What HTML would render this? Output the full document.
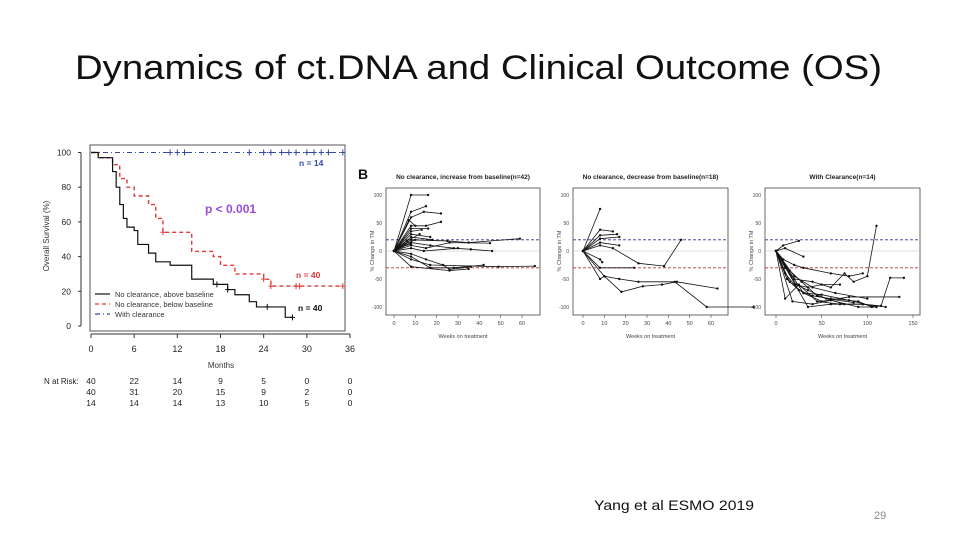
<!DOCTYPE html>
<html><head><meta charset="utf-8"><style>
html,body{margin:0;padding:0;background:#fff;width:960px;height:540px;overflow:hidden}
svg{display:block;font-family:"Liberation Sans",sans-serif}
</style></head><body>
<svg id="s" width="960" height="540" viewBox="0 0 960 540">
<text x="75" y="79" font-size="34" textLength="807" lengthAdjust="spacingAndGlyphs" fill="#111">Dynamics of ct.DNA and Clinical Outcome (OS)</text>
<text x="594" y="510" font-size="14" fill="#111" textLength="160" lengthAdjust="spacingAndGlyphs">Yang et al ESMO 2019</text>
<text x="874" y="519" font-size="11" fill="#888">29</text>
<g id="km"></g>
<g id="sp"></g>
</svg>
<script>
// ---- KM data ----
const kmXTicks=[0,6,12,18,24,30,36];
const kmYTicks=[0,20,40,60,80,100];
const blackT=[0,1,3,3.5,4,4.5,5,6,6.5,8,9,11,14,17,19,20,22,23,27];
const blackS=[100,97,89,80,70,62,57,55,47,42,37,35,27,24,21,18,14,11,5];
const blackEnd=28;
const redT=[0,1,3,4,5,6,8,9,10,14,17,18,20,24,25];
const redS=[100,97,93,85,80,75,70,62,54,43,40,35,30,27,23];
const redEnd=35;
const blueT=[0];const blueS=[100];const blueEnd=35;
const blueCens=[11,12,13,22,24,25,26.5,27.5,28.5,30,31,32,33,35];
const redCens=[10,24,25,28.5,29,35];
const blackCens=[17.5,19,24.5,28];
const riskRows=[[40,22,14,9,5,0,0],[40,31,20,15,9,2,0],[14,14,14,13,10,5,0]];

const NS='http://www.w3.org/2000/svg';
function mk(p,tag,at,txt){const e=document.createElementNS(NS,tag);for(const k in at)e.setAttribute(k,at[k]);if(txt!==undefined)e.textContent=txt;p.appendChild(e);return e;}
const km=document.getElementById('km');
const kx=t=>91+t*(350-91)/36, ky=v=>326-v*(326-152.5)/100;
let r=mk(km,'rect',{x:90,y:145,width:255,height:186,fill:'none',stroke:'#555','stroke-width':1});


mk(km,'line',{x1:kx(0),x2:kx(36),y1:334,y2:334,stroke:'#333'});
kmXTicks.forEach(t=>{mk(km,'line',{x1:kx(t),x2:kx(t),y1:334,y2:338,stroke:'#333'});
 const e=mk(km,'text',{x:kx(t),y:352,'font-size':9,'text-anchor':'middle',fill:'#222'},t);
 
 });
mk(km,'line',{x1:81,x2:81,y1:ky(0),y2:ky(100),stroke:'#333'});
kmYTicks.forEach(v=>{mk(km,'line',{x1:78,x2:81,y1:ky(v),y2:ky(v),stroke:'#333'});
 const e=mk(km,'text',{x:71,y:ky(v)+3,'font-size':8.5,'text-anchor':'end',fill:'#222'},v);
 
 });
let yt=mk(km,'text',{x:49,y:236,'font-size':8,'text-anchor':'middle',fill:'#333',transform:'rotate(-90 49 236)'},'Overall Survival (%)');


let xt=mk(km,'text',{x:221,y:368,'font-size':8,'text-anchor':'middle',fill:'#333'},'Months');


function stepPath(T,S,end){let d=`M${kx(T[0])},${ky(S[0])}`;for(let i=1;i<T.length;i++){d+=`H${kx(T[i])}V${ky(S[i])}`;}d+=`H${kx(end)}`;return d;}
function cens(T,S,end,list,col){list.forEach(c=>{let v=S[0];for(let i=0;i<T.length;i++)if(T[i]<=c)v=S[i];
 mk(km,'path',{d:`M${kx(c)-2.5},${ky(v)}h5M${kx(c)},${ky(v)-3}v6`,stroke:col,'stroke-width':1});});}
let pb=mk(km,'path',{d:stepPath(blueT,blueS,blueEnd),fill:'none',stroke:'#3348a8','stroke-width':1,'stroke-dasharray':'5 3 1 3'});


let pr=mk(km,'path',{d:stepPath(redT,redS,redEnd),fill:'none',stroke:'#e03a3a','stroke-width':1.4,'stroke-dasharray':'4 3'});


let pk=mk(km,'path',{d:stepPath(blackT,blackS,blackEnd),fill:'none',stroke:'#111','stroke-width':1.2});


cens(blueT,blueS,blueEnd,blueCens,'#3348a8');cens(redT,redS,redEnd,redCens,'#e03a3a');cens(blackT,blackS,blackEnd,blackCens,'#111');
[['n = 14',299,166,'#3348a8'],['n = 40',296,278,'#e03a3a'],['n = 40',298,311,'#111']].forEach(a=>{const e=mk(km,'text',{x:a[1],y:a[2],'font-size':8.5,'font-weight':'bold',fill:a[3]},a[0]);
 
 });
let pv=mk(km,'text',{x:205,y:213,'font-size':12,'font-weight':'bold',fill:'#9b4ad8'},'p < 0.001');


[['No clearance, above baseline','#111',''],['No clearance, below baseline','#e03a3a','4 3'],['With clearance','#3348a8','5 3 1 3']].forEach((l,i)=>{const y=294+i*10;
 mk(km,'line',{x1:95,x2:110,y1:y,y2:y,stroke:l[1],'stroke-dasharray':l[2],'stroke-width':1.2});
 const e=mk(km,'text',{x:115,y:y+3,'font-size':7.5,fill:'#333'},l[0]);
 
 });
let rl=mk(km,'text',{x:44,y:384,'font-size':8,fill:'#222'},'N at Risk:');


riskRows.forEach((row,j)=>row.forEach((n,i)=>{const e=mk(km,'text',{x:kx(kmXTicks[i]),y:384+j*11,'font-size':8.5,'text-anchor':'middle',fill:'#222'},n);
 
 }));
let bl=mk(km,'text',{x:358,y:179,'font-size':14,'font-weight':'bold',fill:'#111'},'B');



// ---- spaghetti data (weeks, % change) ----
const p1Lines=[[[0,0],[8,100],[16,100]],[[0,0],[8,70],[15,80]],[[0,0],[8,60],[14,70],[22,67]],[[0,0],[8,45],[15,45],[22,52]],[[0,0],[8,40],[16,40]],[[0,0],[8,35],[13,38]],[[0,0],[8,30],[17,25]],[[0,0],[8,25],[18,20]],[[0,0],[8,20],[25,18],[35,15],[59,22]],[[0,0],[8,15],[17,10],[28,5],[36,3],[46,0]],[[0,0],[8,10],[15,5],[26,15],[45,14]],[[0,0],[8,5],[14,0],[30,5]],[[0,0],[8,-5],[15,-15],[23,-25],[26,-33],[36,-28]],[[0,0],[8,-10],[17,-30],[28,-30],[42,-25]],[[0,0],[8,-28],[26,-35],[35,-32]],[[0,0],[8,-15],[17,-25],[49,-28],[66,-27]],[[0,0],[6,18],[12,30]],[[0,0],[5,12],[10,20]],[[0,0],[4,8],[8,12]],[[0,0],[7,55],[10,45]]];
const p2Lines=[[[0,0],[8,75]],[[0,0],[8,38],[14,35]],[[0,0],[8,28],[16,30]],[[0,0],[8,22],[17,25]],[[0,0],[8,15],[17,10]],[[0,0],[8,10],[14,5],[26,-22],[38,-27],[46,20]],[[0,0],[8,-15],[9,-20]],[[0,0],[8,-30],[24,-30]],[[0,0],[8,-50],[10,-45],[17,-50],[26,-55],[43,-55],[58,-100],[80,-100]],[[0,0],[10,-45],[18,-73],[28,-63],[37,-60],[44,-55],[63,-67]]];
const p3Lines=[[[0,0],[8,10],[25,18]],[[0,0],[10,5],[30,-10]],[[0,0],[8,-15],[20,-25],[30,-30],[60,-40],[80,-45],[95,-40]],[[0,0],[10,-30],[20,-50],[40,-55],[60,-65],[75,-40],[85,-55],[100,-45],[110,45]],[[0,0],[10,-40],[20,-60],[35,-65],[50,-60],[70,-60]],[[0,0],[12,-50],[25,-70],[40,-80],[60,-85],[90,-90],[105,-100]],[[0,0],[15,-55],[30,-75],[50,-78],[80,-88],[110,-100]],[[0,0],[10,-85],[25,-60],[45,-90],[70,-95],[95,-95],[120,-100]],[[0,0],[18,-90],[40,-95],[60,-88],[90,-100],[110,-100]],[[0,0],[22,-60],[35,-70],[55,-85],[85,-92]],[[0,0],[30,-75],[50,-90],[80,-82],[135,-82]],[[0,0],[35,-100],[60,-95],[95,-95],[115,-98],[125,-48],[140,-48]],[[0,0],[20,-45],[40,-65],[65,-75],[100,-85]],[[0,0],[15,-35],[28,-55],[45,-80],[75,-95]]];
const yTicksSp=[-100,-50,0,50,100];
const p1XTicks=[0,10,20,30,40,50,60];
const p2XTicks=[0,10,20,30,40,50,60];
const p3XTicks=[0,50,100,150];
const panels=[
 {lines:p1Lines,ticks:p1XTicks,max:60,box:[386,540],x0:394,x1:522,title:'No clearance, increase from baseline(n=42)',name:'panel-increase'},
 {lines:p2Lines,ticks:p2XTicks,max:60,box:[573,728],x0:583,x1:711,title:'No clearance, decrease from baseline(n=18)',name:'panel-decrease'},
 {lines:p3Lines,ticks:p3XTicks,max:150,box:[765,920],x0:776,x1:913,title:'With Clearance(n=14)',name:'panel-clearance'}];
const sp=document.getElementById('sp');
const sy=v=>251-v*0.56;
panels.forEach(p=>{const g=mk(sp,'g',{});
 
 
 const sx=w=>p.x0+w*(p.x1-p.x0)/p.max;
 mk(g,'rect',{x:p.box[0],y:188,width:p.box[1]-p.box[0],height:127,fill:'none',stroke:'#444','stroke-width':0.8});
 const cx=(p.box[0]+p.box[1])/2;
 const t=mk(g,'text',{x:cx,y:179,'font-size':6.5,'font-weight':'bold','text-anchor':'middle',fill:'#222'},p.title);
 
 
 const wt=mk(g,'text',{x:cx,y:338,'font-size':5.5,'text-anchor':'middle',fill:'#444'},'Weeks on treatment');
 
 
 const at=mk(g,'text',{x:p.box[0]-12,y:251,'font-size':5.5,'text-anchor':'middle',fill:'#444',transform:`rotate(-90 ${p.box[0]-12} 251)`},'% Change in TM');
 
 
 yTicksSp.forEach(v=>{mk(g,'text',{x:p.box[0]-4,y:sy(v)+2,'font-size':5,'text-anchor':'end',fill:'#444'},v);});
 p.ticks.forEach(w=>{mk(g,'line',{x1:sx(w),x2:sx(w),y1:315,y2:318,stroke:'#444','stroke-width':0.6});mk(g,'text',{x:sx(w),y:325,'font-size':5.5,'text-anchor':'middle',fill:'#444'},w);});
 mk(g,'line',{x1:p.box[0],x2:p.box[1],y1:sy(0),y2:sy(0),stroke:'#bbb','stroke-width':0.6});
 mk(g,'line',{x1:p.box[0],x2:p.box[1],y1:sy(20),y2:sy(20),stroke:'#33338a','stroke-width':0.8,'stroke-dasharray':'3 2'});
 mk(g,'line',{x1:p.box[0],x2:p.box[1],y1:sy(-30),y2:sy(-30),stroke:'#a33','stroke-width':0.8,'stroke-dasharray':'3 2'});
 p.lines.forEach(L=>{const pl=mk(g,'polyline',{points:L.map(q=>sx(q[0])+','+sy(q[1])).join(' '),fill:'none',stroke:'#111','stroke-width':0.8});
  
  
  L.forEach(q=>mk(g,'circle',{cx:sx(q[0]),cy:sy(q[1]),r:1.2,fill:'#111'}));});
});
</script>
</body></html>
